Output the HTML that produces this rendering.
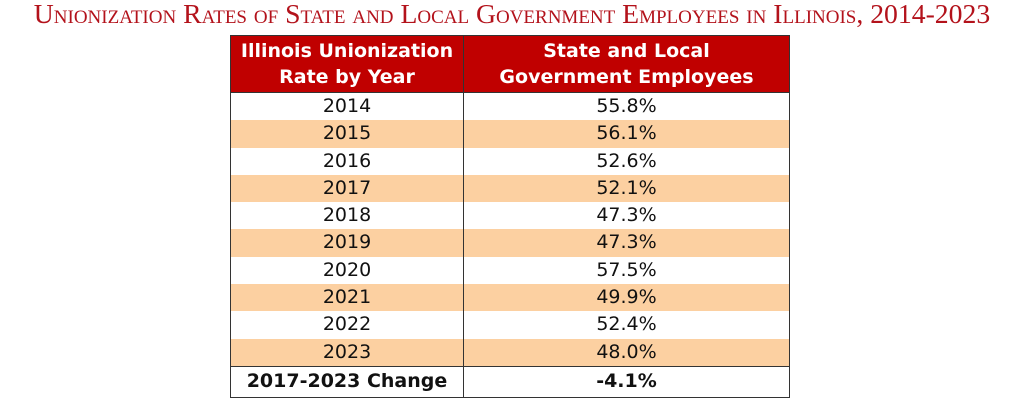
<!DOCTYPE html>
<html><head><meta charset="utf-8"><style>
body{margin:0;width:1024px;height:403px;background:#fff;overflow:hidden;position:relative;font-family:"DejaVu Sans","Liberation Sans",sans-serif}
#title{position:absolute;left:0;top:-2px;width:1024px;text-align:center;font-family:"Liberation Serif",serif;font-variant:small-caps;font-size:27.7px;color:#b3121b;white-space:nowrap;letter-spacing:0px}
table{position:absolute;left:230px;top:35px;border-collapse:collapse;width:560px}
td,th{padding:0;text-align:center;font-size:19px;line-height:27.3px;height:27.3px;color:#111}
th{background:#c00000;color:#fff;font-weight:bold;line-height:26px;height:56px;border:1px solid #333}
td{border-left:1px solid #333;border-right:1px solid #333}
tr.o td{background:#fcd0a1}
tr.c td{font-weight:bold;border:1px solid #333;height:30px}
</style></head><body>
<div id="title">Unionization Rates of State and Local Government Employees in Illinois, 2014-2023</div>
<table>
<tr><th style="width:232px">Illinois Unionization<br>Rate by Year</th><th>State and Local<br>Government Employees</th></tr>
<tbody id="body"></tbody>
</table>
<script>
const years=["2014","2015","2016","2017","2018","2019","2020","2021","2022","2023"];
const rates=["55.8%","56.1%","52.6%","52.1%","47.3%","47.3%","57.5%","49.9%","52.4%","48.0%"];
const changeLabel="2017-2023 Change";
const changeValue="-4.1%";
const tb=document.getElementById('body');
years.forEach((y,i)=>{
const tr=document.createElement('tr');
if(i%2)tr.className='o';


const a=document.createElement('td');a.textContent=y;


const b=document.createElement('td');b.textContent=rates[i];


tr.appendChild(a);tr.appendChild(b);tb.appendChild(tr);
});
const tr=document.createElement('tr');tr.className='c';


const a=document.createElement('td');a.textContent=changeLabel;


const b=document.createElement('td');b.textContent=changeValue;


tr.appendChild(a);tr.appendChild(b);tb.appendChild(tr);
</script>
</body></html>
